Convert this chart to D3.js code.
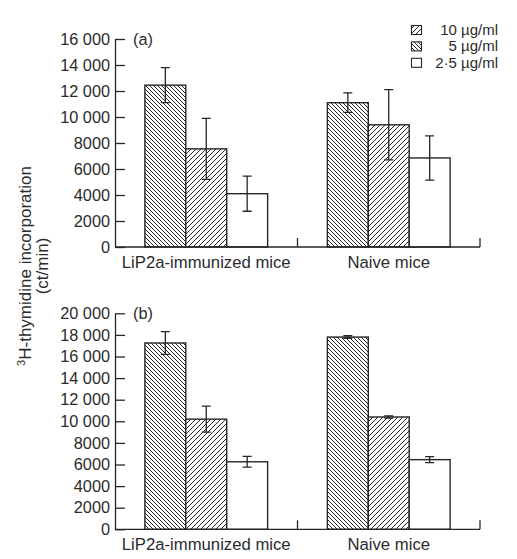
<!DOCTYPE html>
<html><head><meta charset="utf-8">
<script src="https://cdn.jsdelivr.net/npm/d3@7"></script>
<style>
html,body{margin:0;padding:0;background:#fff;}
svg{display:block;font-family:"Liberation Sans",Arial,Helvetica,sans-serif;}
</style></head>
<body>
<svg id="chart" width="517" height="559"></svg>
<script>
// ---- data ----
const groups = ["LiP2a-immunized mice", "Naive mice"];
const legendLabels = ["10 \u00b5g/ml", "5 \u00b5g/ml", "2\u00b75 \u00b5g/ml"];
const legendPatterns = ["fwd", "back", "none"];
// bars drawn left to right inside each group
const barPatterns = ["back", "fwd", "none"];
const panelA_values = [[12450, 7550, 4100], [11100, 9400, 6850]];
const panelA_errors = [[1350, 2350, 1350], [750, 2700, 1700]];
const panelB_values = [[17250, 10200, 6250], [17800, 10400, 6450]];
const panelB_errors = [[1050, 1200, 500], [120, 100, 280]];
const panelA_ticks = [0, 2000, 4000, 6000, 8000, 10000, 12000, 14000, 16000];
const panelB_ticks = [0, 2000, 4000, 6000, 8000, 10000, 12000, 14000, 16000, 18000, 20000];
const panelLabels = ["(a)", "(b)"];

const ink = "#262626";
const svg = d3.select("#chart");

// patterns
const defs = svg.append("defs");
function makePattern(id, w, dir, sw) {
  const p = defs.append("pattern").attr("id", id).attr("patternUnits", "userSpaceOnUse")
    .attr("width", w).attr("height", w);
  p.append("rect").attr("width", w).attr("height", w).attr("fill", "#fff");
  const d = dir === "back"
    ? `M${-w},0 L${w},${2*w} M0,0 L${w},${w} M0,${-w} L${2*w},${w}`
    : `M0,${w} L${w},0 M${-w},${w} L${w},${-w} M0,${2*w} L${2*w},0`;
  p.append("path").attr("d", d).attr("stroke", ink).attr("stroke-width", sw);
}
makePattern("pback", 4, "back", 1.0);
makePattern("pfwd", 5, "fwd", 1.0);
const fillFor = k => k === "back" ? "url(#pback)" : k === "fwd" ? "url(#pfwd)" : "#fff";

const xLeft = 115, xRight = 480;
const x0 = d3.scaleBand().domain(groups).range([xLeft, xRight]).padding(0);
const x1 = d3.scaleBand().domain([0, 1, 2]).range([0, x0.bandwidth()]).paddingInner(0).paddingOuter(0.73);

function fmt(v) {
  if (v >= 10000) return Math.floor(v / 1000) + " " + String(v % 1000).padStart(3, "0");
  return String(v);
}

function panel(values, errors, ticks, yTop, yBottom, label) {
  const y = d3.scaleLinear().domain([0, ticks[ticks.length - 1]]).range([yBottom, yTop]);
  const g = svg.append("g");

  // bars
  groups.forEach((grp, gi) => {
    values[gi].forEach((v, bi) => {
      g.append("rect")
        .attr("x", x0(grp) + x1(bi)).attr("y", y(v))
        .attr("width", x1.bandwidth()).attr("height", y(0) - y(v))
        .attr("fill", fillFor(barPatterns[bi]))
        .attr("stroke", ink).attr("stroke-width", 1.4);
    });
  });
  // error bars
  groups.forEach((grp, gi) => {
    values[gi].forEach((v, bi) => {
      const cx = x0(grp) + x1(bi) + x1.bandwidth() / 2;
      const e = errors[gi][bi];
      const y1 = y(v + e), y2 = y(v - e);
      g.append("path")
        .attr("d", `M${cx},${y1} V${y2} M${cx - 4.5},${y1} H${cx + 4.5} M${cx - 4.5},${y2} H${cx + 4.5}`)
        .attr("stroke", ink).attr("stroke-width", 1.3).attr("fill", "none");
    });
  });

  // y axis
  const ax = g.append("g").attr("transform", `translate(${xLeft},0)`)
    .call(d3.axisLeft(y).tickValues(ticks).tickFormat(fmt).tickSizeInner(-10).tickSizeOuter(0).tickPadding(5));
  ax.selectAll("path,line").attr("stroke", ink).attr("stroke-width", 1.3);
  ax.selectAll("text").attr("font-size", 16.3).attr("fill", "#2b2b2b")
    .attr("font-family", "'Liberation Sans',Arial,Helvetica,sans-serif");

  // x axis
  g.append("line").attr("x1", xLeft).attr("x2", xRight).attr("y1", y(0)).attr("y2", y(0))
    .attr("stroke", ink).attr("stroke-width", 1.3);
  groups.forEach(grp => {
    const xe = x0(grp) + x0.bandwidth();
    g.append("line").attr("x1", xe).attr("x2", xe).attr("y1", y(0)).attr("y2", y(0) - 9)
      .attr("stroke", ink).attr("stroke-width", 1.3);
    g.append("text").attr("x", x0(grp) + x0.bandwidth() / 2).attr("y", y(0) + 21)
      .attr("text-anchor", "middle").attr("font-size", 16.7).attr("fill", "#2b2b2b").text(grp);
  });

  // panel label
  g.append("text").attr("x", xLeft + 18).attr("y", yTop).attr("dy", "0.35em")
    .attr("font-size", 16.3).attr("fill", "#2b2b2b").text(label);
}

panel(panelA_values, panelA_errors, panelA_ticks, 39, 247, panelLabels[0]);
panel(panelB_values, panelB_errors, panelB_ticks, 313.3, 529.3, panelLabels[1]);

// legend
const lg = svg.append("g");
legendLabels.forEach((lab, i) => {
  const yy = 25.5 + i * 16.4;
  lg.append("rect").attr("x", 411.5).attr("y", yy).attr("width", 10).attr("height", 9)
    .attr("fill", fillFor(legendPatterns[i])).attr("stroke", ink).attr("stroke-width", 1.1);
  lg.append("text").attr("x", 498).attr("y", yy + 9.5).attr("text-anchor", "end")
    .attr("font-size", 15).attr("fill", "#2b2b2b").text(lab);
});

// y title
const yt = svg.append("g").attr("transform", "translate(0,266) rotate(-90)");
const t1 = yt.append("text").attr("x", 0).attr("y", 31).attr("text-anchor", "middle")
  .attr("font-size", 17).attr("fill", "#2b2b2b");
t1.append("tspan").attr("font-size", 11).attr("dy", -6).text("3");
t1.append("tspan").attr("dy", 6).text("H-thymidine incorporation");
yt.append("text").attr("x", 0).attr("y", 48).attr("text-anchor", "middle")
  .attr("font-size", 17).attr("fill", "#2b2b2b").text("(ct/min)");
</script>
</body></html>
